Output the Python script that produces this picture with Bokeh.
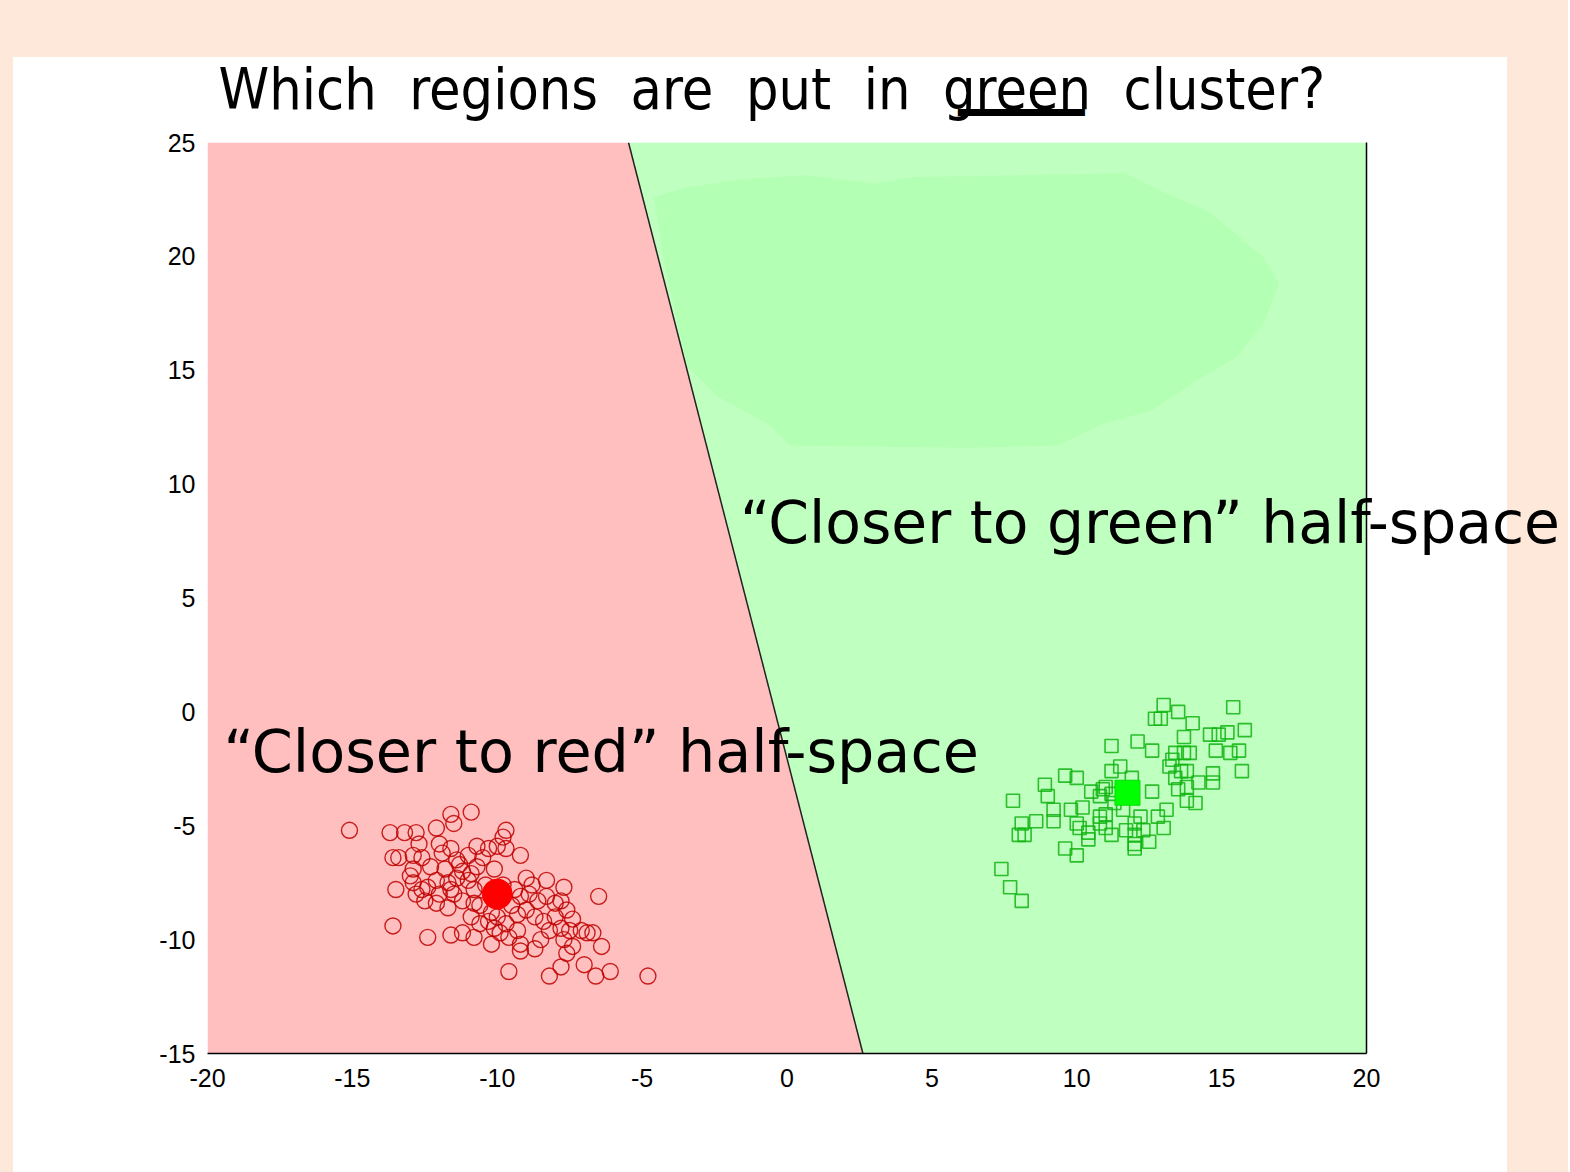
from bokeh.plotting import figure
from bokeh.models import (LinearAxis, FixedTicker, Label, CustomJSTickFormatter)
from bokeh.embed import file_html
from bokeh.resources import INLINE

# ---------------- data ----------------
x_ticks = [-20, -15, -10, -5, 0, 5, 10, 15, 20]
y_ticks = [-15, -10, -5, 0, 5, 10, 15, 20, 25]

red_x = [-15.1, -10.9, -11.6, -11.5, -13.7, -13.2, -12.8, -12.1, -9.7, -9.8,
         -12.7, -12.0, -10.7, -10.0, -9.7, -9.2, -13.4, -12.6, -11.9, -11.6,
         -11.0, -10.5, -12.9, -12.3, -11.3, -10.7, -10.1, -9.0, -8.3, -7.7,
         -6.5, -12.9, -12.6, -12.4, -12.1, -11.7, -11.4, -11.0, -10.8, -11.5,
         -11.2, -10.8, -12.5, -12.1, -9.2, -8.9, -8.6, -8.3, -8.0, -7.8,
         -7.6, -7.4, -9.3, -9.0, -8.7, -8.4, -8.0, -7.8, -7.5, -7.1,
         -6.9, -6.7, -6.4, -13.6, -12.4, -11.6, -11.2, -10.8, -10.2, -9.9,
         -10.1, -10.6, -10.9, -10.3, -10.0, -9.7, -9.3, -9.2, -9.2, -8.7,
         -8.5, -8.2, -7.7, -7.6, -7.4, -9.6, -8.2, -7.8, -7.0, -6.6,
         -6.1, -4.8, -11.8, -11.2, -10.9, -11.6, -10.4, -12.0, -10.6, -9.5,
         -9.8, -8.8, -9.4, -12.8, -13.0, -12.9, -13.5, -11.4, -10.3, -11.7,
         -10.2, -9.6, -13.6]
red_y = [-5.2, -4.4, -4.5, -4.9, -5.3, -5.3, -5.3, -5.1, -5.2, -5.5,
         -5.8, -5.8, -5.9, -5.9, -6.0, -6.3, -6.4, -6.4, -6.2, -6.0,
         -6.3, -6.4, -6.9, -6.8, -6.7, -6.8, -6.9, -7.3, -7.4, -7.7,
         -8.1, -7.5, -7.8, -7.7, -7.4, -7.5, -7.3, -7.4, -7.8, -8.0,
         -8.3, -8.4, -8.3, -8.4, -8.1, -8.0, -8.3, -8.1, -8.4, -8.3,
         -8.7, -9.1, -8.9, -8.7, -9.0, -9.2, -9.0, -9.5, -9.6, -9.6,
         -9.7, -9.7, -10.3, -9.4, -9.9, -9.8, -9.7, -9.9, -10.2, -9.7,
         -9.5, -9.3, -9.0, -9.2, -9.0, -9.3, -9.6, -10.2, -10.5, -10.4,
         -10.0, -9.6, -10.0, -10.6, -10.3, -11.4, -11.6, -11.2, -11.1, -11.6,
         -11.4, -11.6, -6.9, -7.0, -7.1, -7.8, -7.6, -8.0, -8.5, -8.5,
         -7.6, -7.6, -7.8, -8.0, -7.2, -6.3, -7.8, -6.5, -6.0, -8.6,
         -8.8, -9.9, -6.4]

green_x = [13.0, 13.5, 12.7, 12.9, 14.0, 15.4, 15.8, 15.2, 14.9, 14.6,
           13.7, 12.1, 11.2, 12.6, 14.8, 15.6, 15.3, 13.9, 13.7, 13.4,
           13.3, 13.2, 13.6, 13.8, 15.7, 14.7, 14.7, 14.2, 13.4, 13.5,
           13.8, 13.8, 14.1, 11.5, 11.2, 11.9, 9.6, 10.0, 8.9, 9.0,
           7.8, 10.5, 10.9, 10.8, 11.2, 12.6, 9.8, 10.2, 9.2, 9.2,
           8.6, 8.1, 8.0, 8.2, 10.0, 10.1, 10.4, 10.4, 10.8, 11.0,
           11.2, 10.8, 11.0, 11.6, 11.7, 12.0, 12.2, 12.0, 12.3, 12.0,
           12.0, 12.5, 12.8, 13.1, 13.0, 9.6, 10.0, 7.4, 7.7, 8.1,
           11.3, 11.0]
green_y = [0.3, 0.0, -0.3, -0.3, -0.5, 0.2, -0.8, -0.9, -1.0, -1.0,
           -1.1, -1.3, -1.5, -1.7, -1.7, -1.7, -1.8, -1.8, -1.8, -1.8,
           -2.1, -2.4, -2.6, -2.6, -2.6, -2.7, -3.1, -3.1, -2.9, -3.4,
           -3.3, -3.9, -4.0, -2.4, -2.6, -2.9, -2.8, -2.9, -3.2, -3.7,
           -3.9, -3.5, -3.4, -3.7, -3.6, -3.5, -4.3, -4.2, -4.3, -4.8,
           -4.8, -4.9, -5.4, -5.4, -4.9, -5.1, -5.3, -5.6, -4.9, -5.1,
           -5.4, -4.6, -4.5, -4.3, -5.2, -4.9, -4.6, -5.4, -5.2, -5.8,
           -6.0, -5.7, -4.6, -4.3, -5.1, -6.0, -6.3, -6.9, -7.7, -8.3,
           -4.0, -3.3]

red_centre_x = [-10.0]
red_centre_y = [-8.0]
green_centre_x = [11.75]
green_centre_y = [-3.55]

# decision boundary (top, bottom)
boundary_x = [-5.47, 2.62]
boundary_y = [25.0, -15.0]

# hand-painted highlight blob in the green region
blob_x = [-4.59, -3.43, -1.43, 0.72, 3.04, 4.42, 8.12, 11.66, 12.89, 14.58,
          16.44, 16.98, 16.44, 15.51, 14.13, 12.59, 10.89, 9.35, 6.27, 0.11,
          -0.66, -2.36, -3.43, -4.21]
blob_y = [22.60, 23.04, 23.41, 23.56, 23.19, 23.48, 23.56, 23.65, 22.88, 21.94,
          19.96, 18.80, 17.04, 15.57, 14.55, 13.23, 12.65, 11.70, 11.60, 11.70,
          12.65, 13.82, 15.14, 19.53]

title_words = ["Which", "regions", "are", "put", "in", "green", "cluster?"]

# ---------------- figure ----------------
PEACH = "#fde8da"
W, H = 1568, 1172
p = figure(width=W, height=H, x_range=(-20, 20), y_range=(-15, 25),
           output_backend="svg", toolbar_location=None,
           min_border_left=207, min_border_right=W - 1366,
           min_border_top=142, min_border_bottom=H - 1053,
           styles={"background": "linear-gradient(#ffffff, #ffffff) 13px 57px / 1494px 1200px no-repeat, " + PEACH})
p.border_fill_color = None
p.background_fill_color = None
p.outline_line_color = None
p.grid.visible = False

xmin, xmax = x_ticks[0], x_ticks[-1]
ymin, ymax = y_ticks[0], y_ticks[-1]

# green half-space
p.patch([boundary_x[0], xmax, xmax, boundary_x[1]],
        [boundary_y[0], ymax, ymin, boundary_y[1]],
        fill_color="#bfffbf", line_color=None)
# highlight
p.patch(blob_x, blob_y, fill_color="#b3ffb3", line_color=None)
# red half-space
p.patch([xmin, xmin, boundary_x[0], boundary_x[1]],
        [ymin, ymax, boundary_y[0], boundary_y[1]],
        fill_color="#ffbfbf", line_color=None)
# boundary
p.line(boundary_x, boundary_y, line_color="#222222", line_width=1.5)

# points
p.scatter(red_x, red_y, marker="circle", size=16, fill_color=None,
          line_color="#c00000", line_width=1.4, line_alpha=0.85)
p.scatter(green_x, green_y, marker="square", size=13, fill_color=None,
          line_color="#10b410", line_width=1.6, line_alpha=0.85)
p.scatter(red_centre_x, red_centre_y, marker="circle", size=30,
          fill_color="#ff0000", line_color="#ff0000")
p.scatter(green_centre_x, green_centre_y, marker="square", size=25,
          fill_color="#00ff00", line_color="#00e000")

# axes
fmt = CustomJSTickFormatter(code="return String(tick);")
for ax, ticks in ((p.xaxis[0], x_ticks), (p.yaxis[0], y_ticks)):
    ax.ticker = FixedTicker(ticks=ticks)
    ax.formatter = fmt
    ax.major_tick_line_color = None
    ax.minor_tick_line_color = None
    ax.major_label_text_font = "Liberation Sans"
    ax.major_label_text_font_size = "25px"
    ax.major_label_text_color = "black"
p.xaxis[0].axis_line_color = "black"
p.xaxis[0].axis_line_width = 1.5
p.xaxis[0].major_label_standoff = 9
p.yaxis[0].axis_line_color = None
p.yaxis[0].major_label_standoff = 6

right = LinearAxis(ticker=FixedTicker(ticks=[]), axis_line_color="black",
                   axis_line_width=1.5, major_tick_line_color=None,
                   minor_tick_line_color=None, major_label_text_font_size="0px")
p.add_layout(right, "right")

# annotations; those placed in side panels are not clipped to the frame
TXT_FONT = "DejaVu Sans"
p.add_layout(Label(x=-19.45, y=-1.74,
                   text="\u201cCloser to red\u201d half-space",
                   text_font=TXT_FONT, text_font_size="58.8px",
                   text_baseline="alphabetic", text_color="black"))
p.add_layout(Label(x=-1.62, y=8.31,
                   text="\u201cCloser to green\u201d half-space",
                   text_font=TXT_FONT, text_font_size="58.4px",
                   text_baseline="alphabetic", text_color="black"), "below")

HAND = "'DejaVu Sans Condensed', 'DejaVu Sans', sans-serif"
gap = "\u00a0\u00a0"
p.add_layout(Label(x=-19.62, y=27.37, text=gap.join(title_words),
                   text_font=HAND, text_font_size="57px",
                   text_baseline="alphabetic", text_color="black"), "above")
# underline below "green"
p.add_layout(Label(x=5.9, y=26.3, text="\u2501\u2501\u2501\u2501\u2501",
                   text_font="DejaVu Sans", text_font_size="42px",
                   text_baseline="middle", text_color="black"), "left")

open("out.html", "w").write(file_html(p, INLINE))
